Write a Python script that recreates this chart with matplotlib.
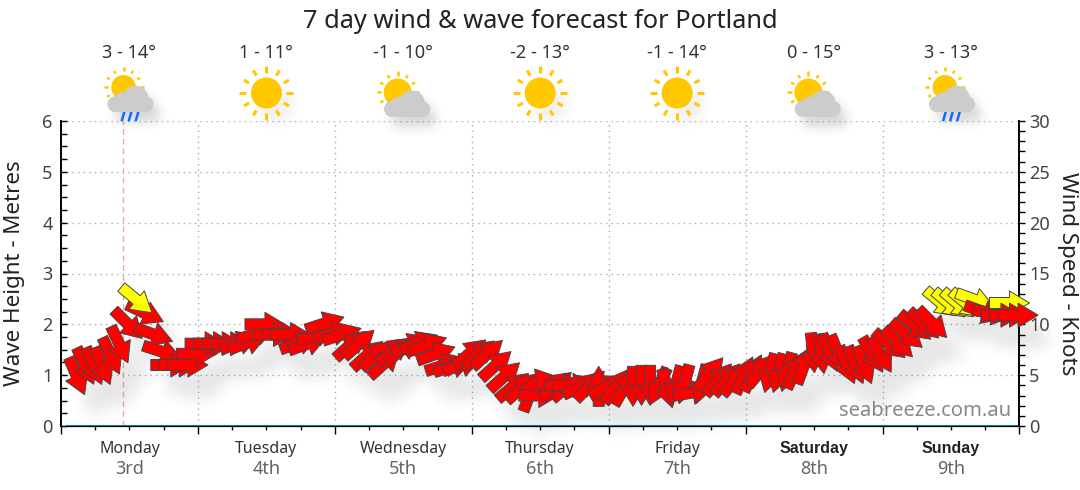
import numpy as np
import matplotlib
matplotlib.use("Agg")
import matplotlib.pyplot as plt
from matplotlib.path import Path
from matplotlib.collections import PathCollection, PatchCollection
from matplotlib.patches import Circle, Rectangle
from matplotlib.transforms import IdentityTransform

plt.rcParams['font.family'] = ['Noto Sans', 'DejaVu Sans']

title = "7 day wind & wave forecast for Portland"
days = ["Monday", "Tuesday", "Wednesday", "Thursday", "Friday", "Saturday", "Sunday"]
dates = ["3rd", "4th", "5th", "6th", "7th", "8th", "9th"]
temps = ["3 - 14°", "1 - 11°", "-1 - 10°", "-2 - 13°", "-1 - 14°", "0 - 15°", "3 - 13°"]
icons = ["rain", "sun", "cloud", "sun", "sun", "cloud", "rain"]
now_hour = 10.9

# hours since monday 00:00, in draw order
wind_hours = [2.75, 4.25, 5.75, 7.25, 8.75, 10.25, 11.75, 14.75, 13.25, 16.25, 17.75, 19.25, 20.75, 22.25,
              23.75, 25.25, 26.75, 28.25, 29.75, 31.25, 32.75, 34.25, 35.75, 37.25, 38.75, 40.25, 41.75, 43.25,
              44.75, 46.25, 47.75, 49.25, 50.75, 52.25, 53.75, 55.25, 56.75, 58.25, 59.75, 61.25, 62.75, 64.25,
              65.75, 67.25, 68.75, 70.25, 71.75, 73.25, 74.75, 76.25, 77.75, 79.25, 80.75, 82.25, 83.75, 85.25,
              86.75, 88.25, 89.75, 91.25, 92.75, 94.25, 95.75, 97.25, 98.75, 100.25, 101.75, 103.25, 104.75, 106.25,
              107.75, 109.25, 110.75, 112.25, 113.75, 115.25, 116.75, 118.25, 119.75, 121.25, 122.75, 124.25, 125.75, 127.25,
              128.75, 130.25, 131.75, 133.25, 134.75, 136.25, 137.75, 139.25, 140.75, 142.25, 143.75, 145.25, 146.75, 148.25,
              149.75, 151.25, 152.75, 154.25, 155.75, 157.25, 158.75, 160.25, 161.75, 163.25, 166.25, 164.75, 166.25, 167.75]
wind_knots = [4.9, 5.9, 5.9, 5.9, 6.9, 8.0, 10.0, 11.1, 12.4, 9.0, 7.3, 6.0, 6.0, 6.0,
              7.1, 8.1, 8.1, 8.1, 8.1, 8.2, 8.2, 9.1, 10.0, 9.0, 9.0, 9.0, 8.2, 8.1,
              9.0, 10.1, 9.1, 9.0, 8.0, 8.1, 7.0, 7.0, 6.2, 7.4, 7.5, 8.0, 8.2, 8.0,
              7.1, 6.0, 5.9, 6.0, 7.2, 7.1, 7.1, 6.0, 4.9, 3.9, 3.8, 3.3, 3.0, 4.1,
              4.0, 4.0, 4.0, 3.9, 4.0, 3.9, 3.9, 3.9, 3.8, 3.9, 4.0, 4.0, 3.9, 3.7,
              4.0, 4.1, 3.3, 4.1, 5.2, 4.6, 4.6, 4.6, 5.0, 5.2, 5.5, 5.2, 5.2, 5.3,
              5.5, 6.0, 7.2, 7.1, 7.2, 7.1, 6.0, 6.0, 6.0, 7.0, 7.0, 8.0, 8.2, 9.0,
              9.8, 10.0, 10.1, 12.1, 12.0, 12.0, 12.0, 12.4, 11.2, 11.1, 12.1, 10.9, 10.9, 10.9]
wind_heading = [157, 155, 157, 157, 155, 155, 135, 115, 130, 110, 108, 90, 90, 90,
                90, 90, 90, 90, 90, 70, 70, 72, 90, 90, 90, 90, 70, 70,
                72, 72, 75, 72, 48, 48, 48, 48, 48, 52, 52, 68, 68, 70,
                70, 72, 72, 72, 50, 50, 48, 48, 48, 50, 48, 20, 90, 320,
                50, 90, 90, 65, 45, 0, 60, 35, 30, 180, 180, 180, 205, 165,
                195, 195, 80, 195, 40, 40, 40, 40, 25, 25, 40, 195, 195, 195,
                25, 20, 175, 172, 158, 158, 158, 158, 158, 150, 150, 130, 135, 130,
                130, 133, 135, 130, 130, 130, 130, 110, 110, 100, 90, 90, 90, 90]

wave_hours = [1, 168]
wave_metres = [0, 0]

red = '#ff0000'
yellow = '#ffff00'
yellow_from = 12


def smooth(a, sigma):
    n = int(sigma * 3)
    k = np.exp(-0.5 * (np.arange(-n, n + 1) / sigma) ** 2)
    k = k / k.sum()
    a = np.apply_along_axis(lambda m: np.convolve(m, k, mode='same'), 0, a)
    a = np.apply_along_axis(lambda m: np.convolve(m, k, mode='same'), 1, a)
    return a


def shadow_filter(sigma, dx, dy, strength, pad=40):
    # drop shadow, im comes in with row 0 at the top
    def run(im, dpi):
        p = np.pad(im, [(pad, pad), (pad, pad), (0, 0)], 'constant')
        out = np.zeros_like(p)
        out[:, :, :3] = 0.25
        a = smooth(p[:, :, 3], sigma) * strength
        out[:, :, 3] = np.roll(np.roll(a, dx, axis=1), dy, axis=0)
        return out, -pad, -pad
    return run


def arrow_path(heading):
    # 40 px long, centred on the point, pointing along the compass heading
    verts = np.array([[-20, -5.5], [0, -5.5], [0, -12], [20, 0], [0, 12], [0, 5.5], [-20, 5.5], [-20, -5.5]], float)
    a = np.radians(90 - heading)
    rot = np.array([[np.cos(a), -np.sin(a)], [np.sin(a), np.cos(a)]])
    return Path(verts @ rot.T, closed=True)


fig = plt.figure(figsize=(10.8, 4.9), dpi=100)
ax = fig.add_axes([61 / 1080, 1 - 426 / 490, 958.5 / 1080, 305 / 490])
ax2 = ax.twinx()

ax.set_xlim(0, 168)
ax.set_ylim(0, 6)
ax2.set_ylim(0, 30)

ax.set_xticks(np.arange(0, 169, 24))
ax.set_xticks(np.arange(0, 169, 6), minor=True)
ax.set_xticklabels([])
ax.set_yticks(np.arange(0, 7))
ax.set_yticks(np.arange(0, 6.01, 0.25), minor=True)
ax2.set_yticks(np.arange(0, 31, 5))
ax2.set_yticks(np.arange(0, 31, 1), minor=True)
ax.tick_params(axis='x', which='major', direction='out', length=6, width=1, color='black')
ax.tick_params(axis='x', which='minor', direction='out', length=3, width=1, color='black')
ax.tick_params(axis='y', which='both', direction='in', length=4, width=1, color='black', labelsize=13, labelcolor='#444444', pad=6)
ax2.tick_params(axis='y', which='both', direction='out', length=4, width=1, color='black', labelsize=13, labelcolor='#444444', pad=3)

ax.grid(True, which='major', color='#aaaaaa', linestyle=(0, (1, 3)), linewidth=1)
for a_ in (ax, ax2):
    a_.spines['top'].set_visible(False)
    a_.spines['left'].set_linewidth(1.2)
    a_.spines['right'].set_linewidth(1.2)
ax.set_axisbelow(True)

ax.set_ylabel("Wave Height - Metres", fontsize=16.1, color='#222222', va='center')
ax.yaxis.set_label_coords(-0.049, 0.5)
ax2.set_ylabel("Wind Speed - Knots", fontsize=16.1, color='#222222', rotation=-90, va='center')
ax2.yaxis.set_label_coords(1.0496, 0.5)

ax.axvline(now_hour, color='#e8a9a9', linestyle=(0, (4, 3)), linewidth=1, zorder=1)
ax.plot(wave_hours, wave_metres, color='#0a84b4', linewidth=1.5, clip_on=False, zorder=3)

for i in range(7):
    if days[i] in ("Saturday", "Sunday"):
        ax.text(12 + 24 * i, -0.45, days[i], ha='center', va='center', fontsize=11.5, color='#222222',
                family='Liberation Sans', fontweight='bold')
    else:
        ax.text(12 + 24 * i, -0.45, days[i], ha='center', va='center', fontsize=11.5, color='#333333')
    ax.text(12 + 24 * i, -0.85, dates[i], ha='center', va='center', fontsize=13, color='#666666')

ax.text(166.5, 0.3, "seabreeze.com.au", ha='right', va='center', fontsize=14.5, color='#888888', zorder=6)

ax2.patch.set_visible(False)
offsets = np.column_stack([wind_hours, wind_knots])
paths = [arrow_path(h) for h in wind_heading]
colors = [yellow if k >= yellow_from else red for k in wind_knots]

shadow = PathCollection(paths, offsets=offsets, offset_transform=ax2.transData, transform=IdentityTransform(),
                        facecolors='black', edgecolors='none', clip_on=False, zorder=2)
shadow.set_agg_filter(shadow_filter(5, 8, 12, 0.36))
ax2.add_collection(shadow, autolim=False)

arrows = PathCollection(paths, offsets=offsets, offset_transform=ax2.transData, transform=IdentityTransform(),
                        facecolors=colors, edgecolors='#444444', linewidths=0.7, clip_on=False, zorder=5)
ax2.add_collection(arrows, autolim=False)

# icons and header go on a pixel overlay
top = fig.add_axes([0, 0, 1, 1], facecolor='none')
top.set_xlim(0, 1080)
top.set_ylim(490, 0)
top.axis('off')

top.text(540, 21, title, ha='center', va='center', fontsize=18.3, color='#222222')


def sun(cx, cy, r, r1, r2, w):
    top.add_patch(Circle((cx, cy), r, color='#ffc800', lw=0, zorder=3))
    for d in range(0, 360, 30):
        a = np.radians(d)
        rr = r2 if d % 90 == 0 else r2 - 1
        top.plot([cx + r1 * np.cos(a), cx + rr * np.cos(a)], [cy + r1 * np.sin(a), cy + rr * np.sin(a)],
                 color='#ffc800', lw=w, solid_capstyle='butt', zorder=3)


def cloud_parts(cx, cy):
    return [Circle((cx + 5, cy), 13), Circle((cx - 8, cy + 3), 9.5),
            Circle((cx - 15, cy + 5.5), 8), Circle((cx + 15, cy + 5.5), 8),
            Rectangle((cx - 15, cy + 5.5), 30, 8)]


def cloud(cx, cy):
    for p in cloud_parts(cx, cy):
        p.set(facecolor='#cccccc', edgecolor='none', zorder=4)
        top.add_patch(p)
    glow = PatchCollection(cloud_parts(cx, cy), facecolor='black', edgecolor='none', zorder=1)
    glow.set_agg_filter(shadow_filter(5, 7, 10, 0.2))
    top.add_collection(glow, autolim=False)


for i in range(7):
    cx = 129.5 + 136.9 * i
    top.text(cx, 52.5, temps[i], ha='center', va='center', fontsize=13, color='#333333')
    if icons[i] == 'sun':
        glow = PatchCollection([Circle((cx, 93), 17)], facecolor='black', edgecolor='none', zorder=1)
        glow.set_agg_filter(shadow_filter(6, 10, 12, 0.08))
        top.add_collection(glow, autolim=False)
        sun(cx, 93, 15.5, 20, 27, 2.2)
    elif icons[i] == 'cloud':
        sun(cx - 5.6, 92.5, 14, 16.5, 21, 1.8)
        cloud(cx + 3.7, 103.5)
    else:
        sun(cx - 6, 87.3, 12.3, 16, 20, 1.8)
        cloud(cx + 1, 98.7)
        for dx in (-5, 2, 9):
            top.plot([cx + dx - 0.5, cx + dx - 2.5], [113, 120], color='#0f6cff', lw=1.8, zorder=3)

fig.savefig("out.png", dpi=100)
